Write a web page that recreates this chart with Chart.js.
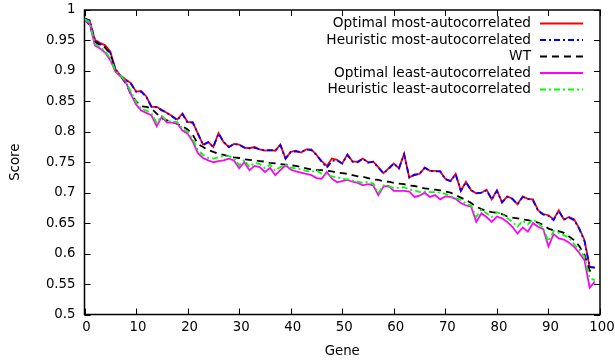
<!DOCTYPE html>
<html><head><meta charset="utf-8">
<script src="https://cdn.jsdelivr.net/npm/chart.js@4"></script>
<style>html,body{margin:0;padding:0;background:#fff}#wrap{width:615px;height:362px}</style>
</head><body><div id="wrap"><canvas id="c" width="615" height="362"></canvas></div>
<script>
const genes = [0,1,2,3,4,5,6,7,8,9,10,11,12,13,14,15,16,17,18,19,20,21,22,23,24,25,26,27,28,29,30,31,32,33,34,35,36,37,38,39,40,41,42,43,44,45,46,47,48,49,50,51,52,53,54,55,56,57,58,59,60,61,62,63,64,65,66,67,68,69,70,71,72,73,74,75,76,77,78,79,80,81,82,83,84,85,86,87,88,89,90,91,92,93,94,95,96,97,98,99];

const optimalMost = [0.986,0.983,0.951,0.946,0.942,0.932,0.903,0.892,0.886,0.880,
0.866,0.867,0.858,0.841,0.841,0.836,0.831,0.826,0.820,0.830,
0.816,0.816,0.797,0.779,0.783,0.775,0.798,0.783,0.775,0.780,
0.779,0.774,0.773,0.775,0.771,0.769,0.770,0.769,0.779,0.756,
0.767,0.769,0.766,0.771,0.771,0.762,0.752,0.744,0.756,0.754,
0.748,0.763,0.751,0.751,0.756,0.750,0.751,0.742,0.732,0.740,
0.748,0.740,0.764,0.725,0.730,0.731,0.741,0.736,0.736,0.735,
0.723,0.719,0.731,0.703,0.718,0.704,0.699,0.700,0.705,0.689,
0.704,0.684,0.694,0.690,0.681,0.694,0.690,0.689,0.671,0.665,
0.663,0.656,0.671,0.656,0.660,0.656,0.641,0.622,0.578,0.577];

const heuristicMost = [0.986,0.983,0.951,0.944,0.939,0.930,0.902,0.892,0.885,0.879,
0.866,0.866,0.857,0.841,0.840,0.835,0.831,0.825,0.819,0.829,
0.815,0.815,0.797,0.778,0.783,0.775,0.797,0.783,0.775,0.780,
0.779,0.774,0.773,0.774,0.771,0.769,0.770,0.769,0.778,0.756,
0.767,0.768,0.766,0.771,0.770,0.762,0.751,0.741,0.752,0.753,
0.748,0.762,0.751,0.750,0.756,0.749,0.751,0.741,0.732,0.739,
0.748,0.740,0.763,0.725,0.729,0.731,0.741,0.736,0.735,0.735,
0.722,0.719,0.730,0.703,0.717,0.704,0.699,0.700,0.704,0.689,
0.703,0.684,0.693,0.690,0.681,0.693,0.690,0.687,0.670,0.664,
0.662,0.655,0.670,0.656,0.659,0.655,0.640,0.620,0.578,0.577];

const wt = [0.985,0.975,0.948,0.942,0.938,0.928,0.900,0.891,0.880,0.862,
0.850,0.842,0.841,0.838,0.830,0.822,0.819,0.816,0.813,0.809,
0.804,0.795,0.780,0.775,0.770,0.767,0.764,0.762,0.760,0.758,
0.757,0.755,0.754,0.753,0.752,0.751,0.749,0.748,0.747,0.746,
0.745,0.744,0.742,0.740,0.738,0.737,0.737,0.736,0.735,0.733,
0.732,0.731,0.729,0.727,0.726,0.724,0.722,0.721,0.719,0.718,
0.716,0.715,0.714,0.712,0.711,0.709,0.707,0.706,0.705,0.704,
0.702,0.700,0.696,0.692,0.688,0.683,0.677,0.673,0.670,0.668,
0.667,0.665,0.661,0.659,0.658,0.656,0.655,0.653,0.651,0.647,
0.641,0.638,0.637,0.634,0.628,0.622,0.612,0.598,0.572,0.567];

const optimalLeast = [0.982,0.978,0.942,0.937,0.930,0.918,0.899,0.891,0.882,0.862,
0.845,0.835,0.831,0.827,0.809,0.825,0.815,0.815,0.814,0.802,
0.797,0.784,0.765,0.757,0.753,0.750,0.752,0.753,0.756,0.753,
0.740,0.750,0.737,0.744,0.742,0.734,0.741,0.729,0.737,0.745,
0.738,0.735,0.733,0.731,0.729,0.724,0.723,0.734,0.723,0.717,
0.719,0.721,0.718,0.716,0.712,0.714,0.712,0.696,0.710,0.711,
0.703,0.703,0.703,0.702,0.693,0.695,0.700,0.693,0.696,0.689,
0.694,0.693,0.690,0.683,0.679,0.677,0.652,0.666,0.660,0.652,
0.661,0.658,0.652,0.644,0.633,0.643,0.636,0.650,0.644,0.640,
0.612,0.632,0.625,0.623,0.618,0.611,0.601,0.589,0.544,0.554];

const heuristicLeast = [0.985,0.980,0.944,0.940,0.932,0.921,0.900,0.893,0.883,0.866,
0.849,0.838,0.835,0.830,0.815,0.826,0.818,0.817,0.816,0.805,
0.800,0.788,0.770,0.762,0.757,0.756,0.758,0.760,0.760,0.757,
0.745,0.754,0.742,0.749,0.747,0.740,0.746,0.736,0.742,0.746,
0.741,0.740,0.738,0.736,0.734,0.737,0.731,0.729,0.727,0.725,
0.723,0.722,0.720,0.718,0.716,0.718,0.715,0.699,0.712,0.710,
0.708,0.708,0.709,0.705,0.704,0.701,0.702,0.701,0.701,0.700,
0.698,0.694,0.691,0.688,0.682,0.679,0.660,0.672,0.666,0.660,
0.668,0.665,0.658,0.652,0.644,0.654,0.648,0.656,0.650,0.642,
0.620,0.637,0.634,0.630,0.626,0.615,0.606,0.595,0.560,0.556];

const xTicks = [0,10,20,30,40,50,60,70,80,90,100];
const yTicks = [0.5,0.55,0.6,0.65,0.7,0.75,0.8,0.85,0.9,0.95,1];
const yTickLabels = ['0.5','0.55','0.6','0.65','0.7','0.75','0.8','0.85','0.9','0.95','1'];
const seriesNames = ['Optimal most-autocorrelated','Heuristic most-autocorrelated','WT','Optimal least-autocorrelated','Heuristic least-autocorrelated'];

const FONT = 'DejaVu Sans';
const FSIZE = 13.3;
const LSIZE = 13.7;
const toXY = arr => arr.map((v,i)=>({x:genes[i], y:v}));

const mk = (label, data, color, dash, order) => ({
  label, data: toXY(data), borderColor: color, backgroundColor: color,
  borderWidth: 1.8, borderDash: dash, pointRadius: 0, tension: 0, fill: false, order
});

const frame = {
  id: 'frame',
  beforeDatasetsDraw(chart) {
    const {ctx, chartArea: a, scales: {x, y}} = chart;
    ctx.save();
    ctx.strokeStyle = '#000';
    ctx.lineWidth = 1;
    const tl = 6;
    ctx.beginPath();
    xTicks.forEach(t => {
      const px = Math.round(x.getPixelForValue(t)) + 0.5;
      ctx.moveTo(px, a.bottom); ctx.lineTo(px, a.bottom - tl);
      ctx.moveTo(px, a.top); ctx.lineTo(px, a.top + tl);
    });
    yTicks.forEach(t => {
      const py = Math.round(y.getPixelForValue(t)) + 0.5;
      ctx.moveTo(a.left, py); ctx.lineTo(a.left + tl, py);
      ctx.moveTo(a.right, py); ctx.lineTo(a.right - tl, py);
    });
    ctx.stroke();
    ctx.lineWidth = 1.5;
    ctx.strokeRect(a.left, a.top, a.right - a.left, a.bottom - a.top);
    ctx.fillStyle = '#000';
    ctx.font = FSIZE + 'px "' + FONT + '"';
    ctx.textBaseline = 'middle';
    ctx.textAlign = 'center';
    xTicks.forEach(t => {
      ctx.fillText(String(t), x.getPixelForValue(t) + 2, a.bottom + 13);
    });
    ctx.textAlign = 'right';
    yTicks.forEach((t, i) => {
      ctx.fillText(yTickLabels[i], a.left - 9, y.getPixelForValue(t));
    });
    ctx.restore();
  },
  afterDraw(chart) {
    const {ctx} = chart;
    ctx.save();
    ctx.font = LSIZE + 'px "' + FONT + '"';
    ctx.textAlign = 'right';
    ctx.textBaseline = 'middle';
    ctx.fillStyle = '#000';
    const rows = [23.5, 40, 56.5, 73, 89.5];
    chart.data.datasets.forEach((ds, i) => {
      const yy = rows[i];
      ctx.fillText(ds.label, 531, yy);
      ctx.beginPath();
      ctx.strokeStyle = ds.borderColor;
      ctx.lineWidth = ds.borderWidth;
      ctx.setLineDash(ds.borderDash || []);
      ctx.moveTo(540, yy); ctx.lineTo(583, yy);
      ctx.stroke();
    });
    ctx.restore();
  }
};

new Chart(document.getElementById('c'), {
  type: 'line',
  data: {
    datasets: [
      mk(seriesNames[0], optimalMost, '#ff0000', [], 5),
      mk(seriesNames[1], heuristicMost, '#0000ff', [6,3,2,3], 4),
      mk(seriesNames[2], wt, '#000000', [7,5], 3),
      mk(seriesNames[3], optimalLeast, '#ff00ff', [], 2),
      mk(seriesNames[4], heuristicLeast, '#00ff00', [6,3,2,3], 1)
    ]
  },
  options: {
    responsive: false, animation: false, devicePixelRatio: 1,
    layout: {padding: {top: 10, right: 15, left: 0, bottom: 0}},
    plugins: {legend: {display: false}, tooltip: {enabled: false}},
    scales: {
      x: {
        type: 'linear', min: 0, max: 100,
        afterFit: s => { s.height = 47.5; },
        grid: {display: false, drawTicks: false},
        border: {display: false},
        ticks: {display: false},
        title: {display: true, text: 'Gene', color: '#000', font: {family: FONT, size: FSIZE}, padding: {top: 4, bottom: 2}}
      },
      y: {
        min: 0.5, max: 1,
        afterFit: s => { s.width = 84.5; },
        grid: {display: false, drawTicks: false},
        border: {display: false},
        ticks: {display: false},
        title: {display: true, text: 'Score', color: '#000', font: {family: FONT, size: FSIZE}, padding: {top: 8, bottom: 0}}
      }
    }
  },
  plugins: [frame]
});
</script></body></html>
